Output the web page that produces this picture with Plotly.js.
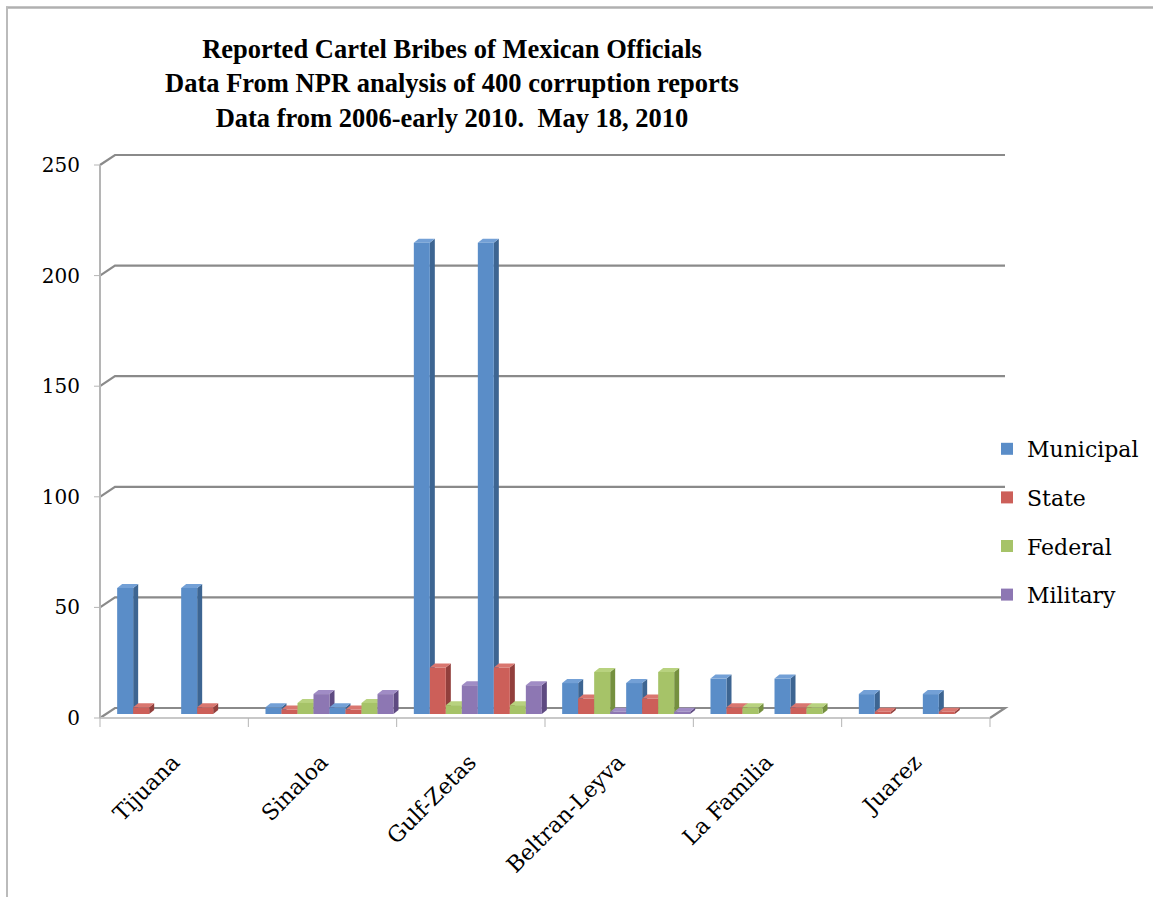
<!DOCTYPE html>
<html>
<head>
<meta charset="utf-8">
<script src="https://cdn.plot.ly/plotly-3.0.1.min.js"></script>
<style>html,body{margin:0;padding:0;background:#fff;}#chart{width:1153px;height:897px;}</style>
</head>
<body>
<div id="chart"></div>
<script>
// ---- data ----
const categories = ['Tijuana', 'Sinaloa', 'Gulf-Zetas', 'Beltran-Leyva', 'La Familia', 'Juarez'];
const seriesNames = ['Municipal', 'State', 'Federal', 'Military'];
const municipal = [57, 3, 213, 14, 16, 9];
const state     = [3, 2, 21, 7, 3, 1];
const federal   = [0, 5, 4, 19, 3, 0];
const military  = [0, 9, 13, 1, 0, 0];
const yTicks = [0, 50, 100, 150, 200, 250];
const titleLines = ['Reported Cartel Bribes of Mexican Officials',
                    'Data From NPR analysis of 400 corruption reports',
                    'Data from 2006-early 2010.  May 18, 2010'];

// ---- styles ----
const frontColors = ['#5A8DC8', '#CC5F59', '#A6C368', '#8D77B3'];
const sideColors  = ['#3D6592', '#923F3C', '#75903F', '#5E4A81'];
const topColors   = ['#73A0D6', '#D9766F', '#B8D27F', '#A08CC5'];

const W = 1153, H = 897, L = 107, R = 997, T = 161, B = 714;
const nCat = categories.length;
const yMax = yTicks[yTicks.length - 1];
const pxX = (R - L) / nCat, pxY = (B - T) / yMax;
const bargap = 0.137;

const seriesVals = [municipal, state, federal, military];
const xIdx = categories.map((c, i) => i);
const traces = [];
const nBars = seriesVals.length * 2;
for (let copy = 0; copy < 2; copy++) {
  seriesVals.forEach((vals, s) => {
    traces.push({
      type: 'bar', x: xIdx, y: vals, name: seriesNames[s],
      legendgroup: seriesNames[s], showlegend: copy === 0,
      marker: {color: frontColors[s], line: {width: 0}},
      hoverinfo: 'skip'
    });
  });
}

const shapes = [];
const xp = px => (px - L) / (R - L);
const yp = py => (B - py) / (B - T);
const yPix = v => B - v * pxY;
const gridCol = '#8A8A8A';
// outer frame (top and left edges visible)
shapes.push({type: 'line', xref: 'paper', yref: 'paper', x0: xp(6), x1: xp(W), y0: yp(7.5), y1: yp(7.5), line: {color: '#B0B0B0', width: 2.5}, layer: 'above'});
shapes.push({type: 'line', xref: 'paper', yref: 'paper', x0: xp(7), x1: xp(7), y0: yp(6.5), y1: yp(H), line: {color: '#BBBBBB', width: 2}, layer: 'above'});
// back-wall gridlines
yTicks.forEach(v => {
  const yf = yPix(v) + 4, yb = yPix(v) - 6;
  let path = `M${xp(L - 7)},${yp(yf)} L${xp(L + 8)},${yp(yb)} L${xp(R + 8)},${yp(yb)}`;
  if (v === 0) path += ` L${xp(R - 7)},${yp(yf)}`;
  shapes.push({type: 'path', xref: 'paper', yref: 'paper', path: path, line: {color: gridCol, width: 2.2}, layer: 'below'});
  shapes.push({type: 'line', xref: 'paper', yref: 'paper', x0: xp(L - 13), x1: xp(L - 7), y0: yp(yf), y1: yp(yf), line: {color: '#B5B5B5', width: 1}, layer: 'below'});
});
// front floor line and front y axis
shapes.push({type: 'line', xref: 'paper', yref: 'paper', x0: xp(L - 7), x1: xp(R - 7), y0: yp(yPix(0) + 4), y1: yp(yPix(0) + 4), line: {color: '#C8C8C8', width: 2}, layer: 'below'});
shapes.push({type: 'line', xref: 'paper', yref: 'paper', x0: xp(L - 7), x1: xp(L - 7), y0: yp(yPix(0) + 4), y1: yp(yPix(yMax) + 4), line: {color: '#B5B5B5', width: 2}, layer: 'below'});
// x ticks at category boundaries
for (let i = 0; i <= nCat; i++) {
  const x = L + i * pxX - 7;
  shapes.push({type: 'line', xref: 'paper', yref: 'paper', x0: xp(x), x1: xp(x), y0: yp(yPix(0) + 4), y1: yp(yPix(0) + 13), line: {color: '#B5B5B5', width: 1}, layer: 'below'});
}
// 3D side and top faces of bars (data coordinates)
const dX = 5 / pxX, dY = 4 / pxY;
const bw = (1 - bargap) / nBars;
traces.forEach((tr, k) => {
  const s = k % seriesVals.length;
  tr.y.forEach((v, i) => {
    if (!v) return;
    const xl = i - 0.5 + bargap / 2 + k * bw, xr = xl + bw;
    shapes.push({type: 'path', xref: 'x', yref: 'y', layer: 'below',
      path: `M${xr},0 L${xr + dX},${dY} L${xr + dX},${v + dY} L${xr},${v} Z`,
      fillcolor: sideColors[s], line: {width: 0}});
    shapes.push({type: 'path', xref: 'x', yref: 'y', layer: 'below',
      path: `M${xl},${v} L${xl + dX},${v + dY} L${xr + dX},${v + dY} L${xr},${v} Z`,
      fillcolor: topColors[s], line: {width: 0}});
  });
});

const layout = {
  width: W, height: H,
  margin: {l: L, r: W - R, t: T, b: H - B, pad: 0, autoexpand: false},
  paper_bgcolor: '#FFFFFF', plot_bgcolor: 'rgba(0,0,0,0)',
  barmode: 'group', bargap: bargap, bargroupgap: 0,
  title: {text: titleLines.join('<br>'), xref: 'container', yref: 'container',
          x: 452 / W, xanchor: 'center', y: 1 - 58 / H, yanchor: 'middle',
          font: {family: 'Liberation Serif', size: 26.5, color: '#000', weight: 'bold'}},
  xaxis: {range: [-0.5, nCat - 0.5], tickvals: xIdx, ticktext: categories, tickangle: -45,
          showgrid: false, zeroline: false, showline: false, ticks: '',
          ticklabelstandoff: 30, ticklabelshift: -8, tickfont: {family: 'DejaVu Serif', size: 22, color: '#000'}},
  yaxis: {range: [0, yMax], tickvals: yTicks, showgrid: false, zeroline: false, showline: false,
          ticks: '', ticklabelstandoff: 26, ticklabelshift: 4,
          tickfont: {family: 'DejaVu Serif', size: 20, color: '#000'}},
  legend: {xref: 'container', yref: 'container', x: 987 / W, xanchor: 'left', y: 1 - 428 / H, yanchor: 'top',
           font: {family: 'DejaVu Serif', size: 22, color: '#000'},
           tracegroupgap: 17, bgcolor: 'rgba(0,0,0,0)'},
  shapes: shapes,
  showlegend: true
};

Plotly.newPlot('chart', traces, layout, {staticPlot: true, displayModeBar: false});
</script>
</body>
</html>
